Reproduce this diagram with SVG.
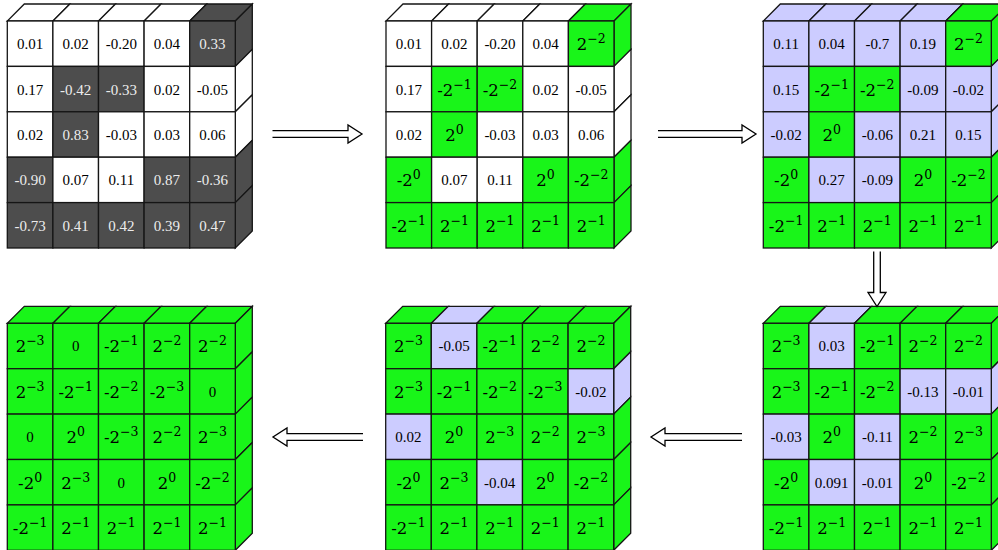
<svg xmlns="http://www.w3.org/2000/svg" width="998" height="550" viewBox="0 0 998 550">
<style>
rect,polygon{stroke:#151515;stroke-width:1.3;stroke-linejoin:miter}
.w{fill:#ffffff}.g{fill:#19f519}.l{fill:#ccccff}.d{fill:#4d4d4d}
text{font-family:"Liberation Serif","Times New Roman",serif;text-anchor:middle;fill:#000}
.n{font-size:15px}
.nd{font-size:15px;fill:#ececec}
.p{font-family:"DejaVu Serif","Liberation Serif",serif;font-size:16.5px}
.s{font-size:12.5px}
.arr{fill:#fff;stroke:#000;stroke-width:1.3;stroke-linejoin:miter}
</style>

<g id="grid1" transform="translate(7.3,21)">
<polygon class="w" points="0,0 45.6,0 62.6,-17 17,-17"/>
<polygon class="w" points="45.6,0 91.2,0 108.2,-17 62.6,-17"/>
<polygon class="w" points="91.2,0 136.8,0 153.8,-17 108.2,-17"/>
<polygon class="w" points="136.8,0 182.4,0 199.4,-17 153.8,-17"/>
<polygon class="d" points="182.4,0 228,0 245,-17 199.4,-17"/>
<polygon class="d" points="228,0 245,-17 245,28.4 228,45.4"/>
<polygon class="w" points="228,45.4 245,28.4 245,73.8 228,90.8"/>
<polygon class="w" points="228,90.8 245,73.8 245,119.2 228,136.2"/>
<polygon class="d" points="228,136.2 245,119.2 245,164.6 228,181.6"/>
<polygon class="d" points="228,181.6 245,164.6 245,210 228,227"/>
<rect class="w" x="0" y="0" width="45.6" height="45.4"/><text class="n" x="22.8" y="28.2">0.01</text>
<rect class="w" x="45.6" y="0" width="45.6" height="45.4"/><text class="n" x="68.4" y="28.2">0.02</text>
<rect class="w" x="91.2" y="0" width="45.6" height="45.4"/><text class="n" x="114" y="28.2">-0.20</text>
<rect class="w" x="136.8" y="0" width="45.6" height="45.4"/><text class="n" x="159.6" y="28.2">0.04</text>
<rect class="d" x="182.4" y="0" width="45.6" height="45.4"/><text class="nd" x="205.2" y="28.2">0.33</text>
<rect class="w" x="0" y="45.4" width="45.6" height="45.4"/><text class="n" x="22.8" y="73.6">0.17</text>
<rect class="d" x="45.6" y="45.4" width="45.6" height="45.4"/><text class="nd" x="68.4" y="73.6">-0.42</text>
<rect class="d" x="91.2" y="45.4" width="45.6" height="45.4"/><text class="nd" x="114" y="73.6">-0.33</text>
<rect class="w" x="136.8" y="45.4" width="45.6" height="45.4"/><text class="n" x="159.6" y="73.6">0.02</text>
<rect class="w" x="182.4" y="45.4" width="45.6" height="45.4"/><text class="n" x="205.2" y="73.6">-0.05</text>
<rect class="w" x="0" y="90.8" width="45.6" height="45.4"/><text class="n" x="22.8" y="119">0.02</text>
<rect class="d" x="45.6" y="90.8" width="45.6" height="45.4"/><text class="nd" x="68.4" y="119">0.83</text>
<rect class="w" x="91.2" y="90.8" width="45.6" height="45.4"/><text class="n" x="114" y="119">-0.03</text>
<rect class="w" x="136.8" y="90.8" width="45.6" height="45.4"/><text class="n" x="159.6" y="119">0.03</text>
<rect class="w" x="182.4" y="90.8" width="45.6" height="45.4"/><text class="n" x="205.2" y="119">0.06</text>
<rect class="d" x="0" y="136.2" width="45.6" height="45.4"/><text class="nd" x="22.8" y="164.4">-0.90</text>
<rect class="w" x="45.6" y="136.2" width="45.6" height="45.4"/><text class="n" x="68.4" y="164.4">0.07</text>
<rect class="w" x="91.2" y="136.2" width="45.6" height="45.4"/><text class="n" x="114" y="164.4">0.11</text>
<rect class="d" x="136.8" y="136.2" width="45.6" height="45.4"/><text class="nd" x="159.6" y="164.4">0.87</text>
<rect class="d" x="182.4" y="136.2" width="45.6" height="45.4"/><text class="nd" x="205.2" y="164.4">-0.36</text>
<rect class="d" x="0" y="181.6" width="45.6" height="45.4"/><text class="nd" x="22.8" y="209.8">-0.73</text>
<rect class="d" x="45.6" y="181.6" width="45.6" height="45.4"/><text class="nd" x="68.4" y="209.8">0.41</text>
<rect class="d" x="91.2" y="181.6" width="45.6" height="45.4"/><text class="nd" x="114" y="209.8">0.42</text>
<rect class="d" x="136.8" y="181.6" width="45.6" height="45.4"/><text class="nd" x="159.6" y="209.8">0.39</text>
<rect class="d" x="182.4" y="181.6" width="45.6" height="45.4"/><text class="nd" x="205.2" y="209.8">0.47</text>
</g>

<g id="grid2" transform="translate(386,21)">
<polygon class="w" points="0,0 45.6,0 62.6,-17 17,-17"/>
<polygon class="w" points="45.6,0 91.2,0 108.2,-17 62.6,-17"/>
<polygon class="w" points="91.2,0 136.8,0 153.8,-17 108.2,-17"/>
<polygon class="w" points="136.8,0 182.4,0 199.4,-17 153.8,-17"/>
<polygon class="g" points="182.4,0 228,0 245,-17 199.4,-17"/>
<polygon class="g" points="228,0 245,-17 245,28.4 228,45.4"/>
<polygon class="w" points="228,45.4 245,28.4 245,73.8 228,90.8"/>
<polygon class="w" points="228,90.8 245,73.8 245,119.2 228,136.2"/>
<polygon class="g" points="228,136.2 245,119.2 245,164.6 228,181.6"/>
<polygon class="g" points="228,181.6 245,164.6 245,210 228,227"/>
<rect class="w" x="0" y="0" width="45.6" height="45.4"/><text class="n" x="22.8" y="28.2">0.01</text>
<rect class="w" x="45.6" y="0" width="45.6" height="45.4"/><text class="n" x="68.4" y="28.2">0.02</text>
<rect class="w" x="91.2" y="0" width="45.6" height="45.4"/><text class="n" x="114" y="28.2">-0.20</text>
<rect class="w" x="136.8" y="0" width="45.6" height="45.4"/><text class="n" x="159.6" y="28.2">0.04</text>
<rect class="g" x="182.4" y="0" width="45.6" height="45.4"/><text class="p" x="205.2" y="29.2">2<tspan class="s" dy="-7">−2</tspan></text>
<rect class="w" x="0" y="45.4" width="45.6" height="45.4"/><text class="n" x="22.8" y="73.6">0.17</text>
<rect class="g" x="45.6" y="45.4" width="45.6" height="45.4"/><text class="p" x="68.4" y="74.6">-2<tspan class="s" dy="-7">−1</tspan></text>
<rect class="g" x="91.2" y="45.4" width="45.6" height="45.4"/><text class="p" x="114" y="74.6">-2<tspan class="s" dy="-7">−2</tspan></text>
<rect class="w" x="136.8" y="45.4" width="45.6" height="45.4"/><text class="n" x="159.6" y="73.6">0.02</text>
<rect class="w" x="182.4" y="45.4" width="45.6" height="45.4"/><text class="n" x="205.2" y="73.6">-0.05</text>
<rect class="w" x="0" y="90.8" width="45.6" height="45.4"/><text class="n" x="22.8" y="119">0.02</text>
<rect class="g" x="45.6" y="90.8" width="45.6" height="45.4"/><text class="p" x="68.4" y="120">2<tspan class="s" dy="-7">0</tspan></text>
<rect class="w" x="91.2" y="90.8" width="45.6" height="45.4"/><text class="n" x="114" y="119">-0.03</text>
<rect class="w" x="136.8" y="90.8" width="45.6" height="45.4"/><text class="n" x="159.6" y="119">0.03</text>
<rect class="w" x="182.4" y="90.8" width="45.6" height="45.4"/><text class="n" x="205.2" y="119">0.06</text>
<rect class="g" x="0" y="136.2" width="45.6" height="45.4"/><text class="p" x="22.8" y="165.4">-2<tspan class="s" dy="-7">0</tspan></text>
<rect class="w" x="45.6" y="136.2" width="45.6" height="45.4"/><text class="n" x="68.4" y="164.4">0.07</text>
<rect class="w" x="91.2" y="136.2" width="45.6" height="45.4"/><text class="n" x="114" y="164.4">0.11</text>
<rect class="g" x="136.8" y="136.2" width="45.6" height="45.4"/><text class="p" x="159.6" y="165.4">2<tspan class="s" dy="-7">0</tspan></text>
<rect class="g" x="182.4" y="136.2" width="45.6" height="45.4"/><text class="p" x="205.2" y="165.4">-2<tspan class="s" dy="-7">−2</tspan></text>
<rect class="g" x="0" y="181.6" width="45.6" height="45.4"/><text class="p" x="22.8" y="210.8">-2<tspan class="s" dy="-7">−1</tspan></text>
<rect class="g" x="45.6" y="181.6" width="45.6" height="45.4"/><text class="p" x="68.4" y="210.8">2<tspan class="s" dy="-7">−1</tspan></text>
<rect class="g" x="91.2" y="181.6" width="45.6" height="45.4"/><text class="p" x="114" y="210.8">2<tspan class="s" dy="-7">−1</tspan></text>
<rect class="g" x="136.8" y="181.6" width="45.6" height="45.4"/><text class="p" x="159.6" y="210.8">2<tspan class="s" dy="-7">−1</tspan></text>
<rect class="g" x="182.4" y="181.6" width="45.6" height="45.4"/><text class="p" x="205.2" y="210.8">2<tspan class="s" dy="-7">−1</tspan></text>
</g>

<g id="grid3" transform="translate(763.3,21)">
<polygon class="l" points="0,0 45.6,0 62.6,-17 17,-17"/>
<polygon class="l" points="45.6,0 91.2,0 108.2,-17 62.6,-17"/>
<polygon class="l" points="91.2,0 136.8,0 153.8,-17 108.2,-17"/>
<polygon class="l" points="136.8,0 182.4,0 199.4,-17 153.8,-17"/>
<polygon class="g" points="182.4,0 228,0 245,-17 199.4,-17"/>
<polygon class="g" points="228,0 245,-17 245,28.4 228,45.4"/>
<polygon class="l" points="228,45.4 245,28.4 245,73.8 228,90.8"/>
<polygon class="l" points="228,90.8 245,73.8 245,119.2 228,136.2"/>
<polygon class="g" points="228,136.2 245,119.2 245,164.6 228,181.6"/>
<polygon class="g" points="228,181.6 245,164.6 245,210 228,227"/>
<rect class="l" x="0" y="0" width="45.6" height="45.4"/><text class="n" x="22.8" y="28.2">0.11</text>
<rect class="l" x="45.6" y="0" width="45.6" height="45.4"/><text class="n" x="68.4" y="28.2">0.04</text>
<rect class="l" x="91.2" y="0" width="45.6" height="45.4"/><text class="n" x="114" y="28.2">-0.7</text>
<rect class="l" x="136.8" y="0" width="45.6" height="45.4"/><text class="n" x="159.6" y="28.2">0.19</text>
<rect class="g" x="182.4" y="0" width="45.6" height="45.4"/><text class="p" x="205.2" y="29.2">2<tspan class="s" dy="-7">−2</tspan></text>
<rect class="l" x="0" y="45.4" width="45.6" height="45.4"/><text class="n" x="22.8" y="73.6">0.15</text>
<rect class="g" x="45.6" y="45.4" width="45.6" height="45.4"/><text class="p" x="68.4" y="74.6">-2<tspan class="s" dy="-7">−1</tspan></text>
<rect class="g" x="91.2" y="45.4" width="45.6" height="45.4"/><text class="p" x="114" y="74.6">-2<tspan class="s" dy="-7">−2</tspan></text>
<rect class="l" x="136.8" y="45.4" width="45.6" height="45.4"/><text class="n" x="159.6" y="73.6">-0.09</text>
<rect class="l" x="182.4" y="45.4" width="45.6" height="45.4"/><text class="n" x="205.2" y="73.6">-0.02</text>
<rect class="l" x="0" y="90.8" width="45.6" height="45.4"/><text class="n" x="22.8" y="119">-0.02</text>
<rect class="g" x="45.6" y="90.8" width="45.6" height="45.4"/><text class="p" x="68.4" y="120">2<tspan class="s" dy="-7">0</tspan></text>
<rect class="l" x="91.2" y="90.8" width="45.6" height="45.4"/><text class="n" x="114" y="119">-0.06</text>
<rect class="l" x="136.8" y="90.8" width="45.6" height="45.4"/><text class="n" x="159.6" y="119">0.21</text>
<rect class="l" x="182.4" y="90.8" width="45.6" height="45.4"/><text class="n" x="205.2" y="119">0.15</text>
<rect class="g" x="0" y="136.2" width="45.6" height="45.4"/><text class="p" x="22.8" y="165.4">-2<tspan class="s" dy="-7">0</tspan></text>
<rect class="l" x="45.6" y="136.2" width="45.6" height="45.4"/><text class="n" x="68.4" y="164.4">0.27</text>
<rect class="l" x="91.2" y="136.2" width="45.6" height="45.4"/><text class="n" x="114" y="164.4">-0.09</text>
<rect class="g" x="136.8" y="136.2" width="45.6" height="45.4"/><text class="p" x="159.6" y="165.4">2<tspan class="s" dy="-7">0</tspan></text>
<rect class="g" x="182.4" y="136.2" width="45.6" height="45.4"/><text class="p" x="205.2" y="165.4">-2<tspan class="s" dy="-7">−2</tspan></text>
<rect class="g" x="0" y="181.6" width="45.6" height="45.4"/><text class="p" x="22.8" y="210.8">-2<tspan class="s" dy="-7">−1</tspan></text>
<rect class="g" x="45.6" y="181.6" width="45.6" height="45.4"/><text class="p" x="68.4" y="210.8">2<tspan class="s" dy="-7">−1</tspan></text>
<rect class="g" x="91.2" y="181.6" width="45.6" height="45.4"/><text class="p" x="114" y="210.8">2<tspan class="s" dy="-7">−1</tspan></text>
<rect class="g" x="136.8" y="181.6" width="45.6" height="45.4"/><text class="p" x="159.6" y="210.8">2<tspan class="s" dy="-7">−1</tspan></text>
<rect class="g" x="182.4" y="181.6" width="45.6" height="45.4"/><text class="p" x="205.2" y="210.8">2<tspan class="s" dy="-7">−1</tspan></text>
</g>

<g id="grid4" transform="translate(7.3,323.3)">
<polygon class="g" points="0,0 45.6,0 62.6,-17 17,-17"/>
<polygon class="g" points="45.6,0 91.2,0 108.2,-17 62.6,-17"/>
<polygon class="g" points="91.2,0 136.8,0 153.8,-17 108.2,-17"/>
<polygon class="g" points="136.8,0 182.4,0 199.4,-17 153.8,-17"/>
<polygon class="g" points="182.4,0 228,0 245,-17 199.4,-17"/>
<polygon class="g" points="228,0 245,-17 245,28.4 228,45.4"/>
<polygon class="g" points="228,45.4 245,28.4 245,73.8 228,90.8"/>
<polygon class="g" points="228,90.8 245,73.8 245,119.2 228,136.2"/>
<polygon class="g" points="228,136.2 245,119.2 245,164.6 228,181.6"/>
<polygon class="g" points="228,181.6 245,164.6 245,210 228,227"/>
<rect class="g" x="0" y="0" width="45.6" height="45.4"/><text class="p" x="22.8" y="29.2">2<tspan class="s" dy="-7">−3</tspan></text>
<rect class="g" x="45.6" y="0" width="45.6" height="45.4"/><text class="n" x="68.4" y="28.2">0</text>
<rect class="g" x="91.2" y="0" width="45.6" height="45.4"/><text class="p" x="114" y="29.2">-2<tspan class="s" dy="-7">−1</tspan></text>
<rect class="g" x="136.8" y="0" width="45.6" height="45.4"/><text class="p" x="159.6" y="29.2">2<tspan class="s" dy="-7">−2</tspan></text>
<rect class="g" x="182.4" y="0" width="45.6" height="45.4"/><text class="p" x="205.2" y="29.2">2<tspan class="s" dy="-7">−2</tspan></text>
<rect class="g" x="0" y="45.4" width="45.6" height="45.4"/><text class="p" x="22.8" y="74.6">2<tspan class="s" dy="-7">−3</tspan></text>
<rect class="g" x="45.6" y="45.4" width="45.6" height="45.4"/><text class="p" x="68.4" y="74.6">-2<tspan class="s" dy="-7">−1</tspan></text>
<rect class="g" x="91.2" y="45.4" width="45.6" height="45.4"/><text class="p" x="114" y="74.6">-2<tspan class="s" dy="-7">−2</tspan></text>
<rect class="g" x="136.8" y="45.4" width="45.6" height="45.4"/><text class="p" x="159.6" y="74.6">-2<tspan class="s" dy="-7">−3</tspan></text>
<rect class="g" x="182.4" y="45.4" width="45.6" height="45.4"/><text class="n" x="205.2" y="73.6">0</text>
<rect class="g" x="0" y="90.8" width="45.6" height="45.4"/><text class="n" x="22.8" y="119">0</text>
<rect class="g" x="45.6" y="90.8" width="45.6" height="45.4"/><text class="p" x="68.4" y="120">2<tspan class="s" dy="-7">0</tspan></text>
<rect class="g" x="91.2" y="90.8" width="45.6" height="45.4"/><text class="p" x="114" y="120">-2<tspan class="s" dy="-7">−3</tspan></text>
<rect class="g" x="136.8" y="90.8" width="45.6" height="45.4"/><text class="p" x="159.6" y="120">2<tspan class="s" dy="-7">−2</tspan></text>
<rect class="g" x="182.4" y="90.8" width="45.6" height="45.4"/><text class="p" x="205.2" y="120">2<tspan class="s" dy="-7">−3</tspan></text>
<rect class="g" x="0" y="136.2" width="45.6" height="45.4"/><text class="p" x="22.8" y="165.4">-2<tspan class="s" dy="-7">0</tspan></text>
<rect class="g" x="45.6" y="136.2" width="45.6" height="45.4"/><text class="p" x="68.4" y="165.4">2<tspan class="s" dy="-7">−3</tspan></text>
<rect class="g" x="91.2" y="136.2" width="45.6" height="45.4"/><text class="n" x="114" y="164.4">0</text>
<rect class="g" x="136.8" y="136.2" width="45.6" height="45.4"/><text class="p" x="159.6" y="165.4">2<tspan class="s" dy="-7">0</tspan></text>
<rect class="g" x="182.4" y="136.2" width="45.6" height="45.4"/><text class="p" x="205.2" y="165.4">-2<tspan class="s" dy="-7">−2</tspan></text>
<rect class="g" x="0" y="181.6" width="45.6" height="45.4"/><text class="p" x="22.8" y="210.8">-2<tspan class="s" dy="-7">−1</tspan></text>
<rect class="g" x="45.6" y="181.6" width="45.6" height="45.4"/><text class="p" x="68.4" y="210.8">2<tspan class="s" dy="-7">−1</tspan></text>
<rect class="g" x="91.2" y="181.6" width="45.6" height="45.4"/><text class="p" x="114" y="210.8">2<tspan class="s" dy="-7">−1</tspan></text>
<rect class="g" x="136.8" y="181.6" width="45.6" height="45.4"/><text class="p" x="159.6" y="210.8">2<tspan class="s" dy="-7">−1</tspan></text>
<rect class="g" x="182.4" y="181.6" width="45.6" height="45.4"/><text class="p" x="205.2" y="210.8">2<tspan class="s" dy="-7">−1</tspan></text>
</g>

<g id="grid5" transform="translate(385.7,323.3)">
<polygon class="g" points="0,0 45.6,0 62.6,-17 17,-17"/>
<polygon class="l" points="45.6,0 91.2,0 108.2,-17 62.6,-17"/>
<polygon class="g" points="91.2,0 136.8,0 153.8,-17 108.2,-17"/>
<polygon class="g" points="136.8,0 182.4,0 199.4,-17 153.8,-17"/>
<polygon class="g" points="182.4,0 228,0 245,-17 199.4,-17"/>
<polygon class="g" points="228,0 245,-17 245,28.4 228,45.4"/>
<polygon class="l" points="228,45.4 245,28.4 245,73.8 228,90.8"/>
<polygon class="g" points="228,90.8 245,73.8 245,119.2 228,136.2"/>
<polygon class="g" points="228,136.2 245,119.2 245,164.6 228,181.6"/>
<polygon class="g" points="228,181.6 245,164.6 245,210 228,227"/>
<rect class="g" x="0" y="0" width="45.6" height="45.4"/><text class="p" x="22.8" y="29.2">2<tspan class="s" dy="-7">−3</tspan></text>
<rect class="l" x="45.6" y="0" width="45.6" height="45.4"/><text class="n" x="68.4" y="28.2">-0.05</text>
<rect class="g" x="91.2" y="0" width="45.6" height="45.4"/><text class="p" x="114" y="29.2">-2<tspan class="s" dy="-7">−1</tspan></text>
<rect class="g" x="136.8" y="0" width="45.6" height="45.4"/><text class="p" x="159.6" y="29.2">2<tspan class="s" dy="-7">−2</tspan></text>
<rect class="g" x="182.4" y="0" width="45.6" height="45.4"/><text class="p" x="205.2" y="29.2">2<tspan class="s" dy="-7">−2</tspan></text>
<rect class="g" x="0" y="45.4" width="45.6" height="45.4"/><text class="p" x="22.8" y="74.6">2<tspan class="s" dy="-7">−3</tspan></text>
<rect class="g" x="45.6" y="45.4" width="45.6" height="45.4"/><text class="p" x="68.4" y="74.6">-2<tspan class="s" dy="-7">−1</tspan></text>
<rect class="g" x="91.2" y="45.4" width="45.6" height="45.4"/><text class="p" x="114" y="74.6">-2<tspan class="s" dy="-7">−2</tspan></text>
<rect class="g" x="136.8" y="45.4" width="45.6" height="45.4"/><text class="p" x="159.6" y="74.6">-2<tspan class="s" dy="-7">−3</tspan></text>
<rect class="l" x="182.4" y="45.4" width="45.6" height="45.4"/><text class="n" x="205.2" y="73.6">-0.02</text>
<rect class="l" x="0" y="90.8" width="45.6" height="45.4"/><text class="n" x="22.8" y="119">0.02</text>
<rect class="g" x="45.6" y="90.8" width="45.6" height="45.4"/><text class="p" x="68.4" y="120">2<tspan class="s" dy="-7">0</tspan></text>
<rect class="g" x="91.2" y="90.8" width="45.6" height="45.4"/><text class="p" x="114" y="120">2<tspan class="s" dy="-7">−3</tspan></text>
<rect class="g" x="136.8" y="90.8" width="45.6" height="45.4"/><text class="p" x="159.6" y="120">2<tspan class="s" dy="-7">−2</tspan></text>
<rect class="g" x="182.4" y="90.8" width="45.6" height="45.4"/><text class="p" x="205.2" y="120">2<tspan class="s" dy="-7">−3</tspan></text>
<rect class="g" x="0" y="136.2" width="45.6" height="45.4"/><text class="p" x="22.8" y="165.4">-2<tspan class="s" dy="-7">0</tspan></text>
<rect class="g" x="45.6" y="136.2" width="45.6" height="45.4"/><text class="p" x="68.4" y="165.4">2<tspan class="s" dy="-7">−3</tspan></text>
<rect class="l" x="91.2" y="136.2" width="45.6" height="45.4"/><text class="n" x="114" y="164.4">-0.04</text>
<rect class="g" x="136.8" y="136.2" width="45.6" height="45.4"/><text class="p" x="159.6" y="165.4">2<tspan class="s" dy="-7">0</tspan></text>
<rect class="g" x="182.4" y="136.2" width="45.6" height="45.4"/><text class="p" x="205.2" y="165.4">-2<tspan class="s" dy="-7">−2</tspan></text>
<rect class="g" x="0" y="181.6" width="45.6" height="45.4"/><text class="p" x="22.8" y="210.8">-2<tspan class="s" dy="-7">−1</tspan></text>
<rect class="g" x="45.6" y="181.6" width="45.6" height="45.4"/><text class="p" x="68.4" y="210.8">2<tspan class="s" dy="-7">−1</tspan></text>
<rect class="g" x="91.2" y="181.6" width="45.6" height="45.4"/><text class="p" x="114" y="210.8">2<tspan class="s" dy="-7">−1</tspan></text>
<rect class="g" x="136.8" y="181.6" width="45.6" height="45.4"/><text class="p" x="159.6" y="210.8">2<tspan class="s" dy="-7">−1</tspan></text>
<rect class="g" x="182.4" y="181.6" width="45.6" height="45.4"/><text class="p" x="205.2" y="210.8">2<tspan class="s" dy="-7">−1</tspan></text>
</g>

<g id="grid6" transform="translate(763.3,323.3)">
<polygon class="g" points="0,0 45.6,0 62.6,-17 17,-17"/>
<polygon class="l" points="45.6,0 91.2,0 108.2,-17 62.6,-17"/>
<polygon class="g" points="91.2,0 136.8,0 153.8,-17 108.2,-17"/>
<polygon class="g" points="136.8,0 182.4,0 199.4,-17 153.8,-17"/>
<polygon class="g" points="182.4,0 228,0 245,-17 199.4,-17"/>
<polygon class="g" points="228,0 245,-17 245,28.4 228,45.4"/>
<polygon class="l" points="228,45.4 245,28.4 245,73.8 228,90.8"/>
<polygon class="g" points="228,90.8 245,73.8 245,119.2 228,136.2"/>
<polygon class="g" points="228,136.2 245,119.2 245,164.6 228,181.6"/>
<polygon class="g" points="228,181.6 245,164.6 245,210 228,227"/>
<rect class="g" x="0" y="0" width="45.6" height="45.4"/><text class="p" x="22.8" y="29.2">2<tspan class="s" dy="-7">−3</tspan></text>
<rect class="l" x="45.6" y="0" width="45.6" height="45.4"/><text class="n" x="68.4" y="28.2">0.03</text>
<rect class="g" x="91.2" y="0" width="45.6" height="45.4"/><text class="p" x="114" y="29.2">-2<tspan class="s" dy="-7">−1</tspan></text>
<rect class="g" x="136.8" y="0" width="45.6" height="45.4"/><text class="p" x="159.6" y="29.2">2<tspan class="s" dy="-7">−2</tspan></text>
<rect class="g" x="182.4" y="0" width="45.6" height="45.4"/><text class="p" x="205.2" y="29.2">2<tspan class="s" dy="-7">−2</tspan></text>
<rect class="g" x="0" y="45.4" width="45.6" height="45.4"/><text class="p" x="22.8" y="74.6">2<tspan class="s" dy="-7">−3</tspan></text>
<rect class="g" x="45.6" y="45.4" width="45.6" height="45.4"/><text class="p" x="68.4" y="74.6">-2<tspan class="s" dy="-7">−1</tspan></text>
<rect class="g" x="91.2" y="45.4" width="45.6" height="45.4"/><text class="p" x="114" y="74.6">-2<tspan class="s" dy="-7">−2</tspan></text>
<rect class="l" x="136.8" y="45.4" width="45.6" height="45.4"/><text class="n" x="159.6" y="73.6">-0.13</text>
<rect class="l" x="182.4" y="45.4" width="45.6" height="45.4"/><text class="n" x="205.2" y="73.6">-0.01</text>
<rect class="l" x="0" y="90.8" width="45.6" height="45.4"/><text class="n" x="22.8" y="119">-0.03</text>
<rect class="g" x="45.6" y="90.8" width="45.6" height="45.4"/><text class="p" x="68.4" y="120">2<tspan class="s" dy="-7">0</tspan></text>
<rect class="l" x="91.2" y="90.8" width="45.6" height="45.4"/><text class="n" x="114" y="119">-0.11</text>
<rect class="g" x="136.8" y="90.8" width="45.6" height="45.4"/><text class="p" x="159.6" y="120">2<tspan class="s" dy="-7">−2</tspan></text>
<rect class="g" x="182.4" y="90.8" width="45.6" height="45.4"/><text class="p" x="205.2" y="120">2<tspan class="s" dy="-7">−3</tspan></text>
<rect class="g" x="0" y="136.2" width="45.6" height="45.4"/><text class="p" x="22.8" y="165.4">-2<tspan class="s" dy="-7">0</tspan></text>
<rect class="l" x="45.6" y="136.2" width="45.6" height="45.4"/><text class="n" x="68.4" y="164.4">0.091</text>
<rect class="l" x="91.2" y="136.2" width="45.6" height="45.4"/><text class="n" x="114" y="164.4">-0.01</text>
<rect class="g" x="136.8" y="136.2" width="45.6" height="45.4"/><text class="p" x="159.6" y="165.4">2<tspan class="s" dy="-7">0</tspan></text>
<rect class="g" x="182.4" y="136.2" width="45.6" height="45.4"/><text class="p" x="205.2" y="165.4">-2<tspan class="s" dy="-7">−2</tspan></text>
<rect class="g" x="0" y="181.6" width="45.6" height="45.4"/><text class="p" x="22.8" y="210.8">-2<tspan class="s" dy="-7">−1</tspan></text>
<rect class="g" x="45.6" y="181.6" width="45.6" height="45.4"/><text class="p" x="68.4" y="210.8">2<tspan class="s" dy="-7">−1</tspan></text>
<rect class="g" x="91.2" y="181.6" width="45.6" height="45.4"/><text class="p" x="114" y="210.8">2<tspan class="s" dy="-7">−1</tspan></text>
<rect class="g" x="136.8" y="181.6" width="45.6" height="45.4"/><text class="p" x="159.6" y="210.8">2<tspan class="s" dy="-7">−1</tspan></text>
<rect class="g" x="182.4" y="181.6" width="45.6" height="45.4"/><text class="p" x="205.2" y="210.8">2<tspan class="s" dy="-7">−1</tspan></text>
</g>

<g id="connectors">
<path class="arr" d="M272.5,130.7 H348 V125 L362,134 L348,143 V137.3 H272.5"/>
<path class="arr" d="M658,130.7 H742 V125 L756,134 L742,143 V137.3 H658"/>
<path class="arr" d="M873.7,251.5 V292.5 H868 L877,306.5 L886,292.5 H880.3 V251.5"/>
<path class="arr" d="M742,433.7 H665 V428 L651,437 L665,446 V440.3 H742"/>
<path class="arr" d="M363,433.7 H287 V428 L273,437 L287,446 V440.3 H363"/>
</g>
</svg>
